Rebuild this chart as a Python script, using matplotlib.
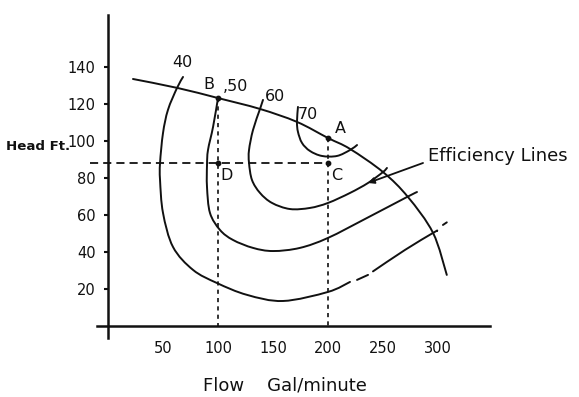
import numpy as np
import matplotlib.pyplot as plt
from matplotlib.path import Path
from matplotlib.patches import PathPatch

nan = np.nan

# pump characteristic (head against flow)
head_flow = [22.7, 63.6, 100, 138.2, 171.8, 200, 220, 250, 272.7, 295.5, 308]
head_ft = [133.5, 128.6, 123.2, 117.3, 110.3, 101.6, 95.7, 83.2, 69.7, 50.3, 27.6]

# efficiency lines, traced as flow / head pairs (nan = break in the pen line)
eff40_flow = [68.2, 62.7, 54.5, 50, 47.3, 47.3, 50, 59.1, 77.3, 99.1, 126.4, 159.1,
              200, 220, nan, 226.4, 236.4, nan, 240.9, 270, 295.5, 299, nan, 304.5, 308]
eff40_head = [134.6, 128.6, 116.8, 104.3, 88.1, 78.9, 61.1, 42.7, 30.3, 23.2, 16.8, 13.5,
              18.4, 23.8, nan, 24.9, 27.6, nan, 29.5, 41.1, 50.3, 51.4, nan, 54.6, 56.0]

eff50_flow = [100, 95.5, 90.9, 90, 90, 92.7, 101.8, 113.6, 131.8, 150, 174.5, 200,
              235.5, 271.8, 280.9]
eff50_head = [123.2, 107.6, 95.1, 87, 75.1, 61.1, 51.9, 46.5, 42.2, 40.5, 42.2, 47.6,
              58.4, 69.7, 72.4]

eff60_flow = [140.9, 138.2, 131.8, 128.2, 128.2, 130.9, 138.2, 149.1, 165.5, 183.6,
              200, 220, 236.4, 250, 253.6]
eff60_head = [122.2, 117.3, 105.9, 95.1, 88.1, 78.9, 71.9, 66.5, 63.2, 63.8, 66.5,
              71.9, 77.3, 83.2, 85.4]

eff70_flow = [172.7, 171.8, 172.7, 176.4, 183.6, 194.5, 208.2, 220, 226.4]
eff70_head = [118.4, 110.3, 104.9, 98.9, 94.6, 91.9, 91.9, 95.1, 97.8]

# operating points
pt_names = ["A", "B", "C", "D"]
pt_flow = [200, 100, 200, 100]
pt_head = [101.6, 123.2, 88.1, 88.1]

flow_ticks = [50, 100, 150, 200, 250, 300]
head_ticks = [20, 40, 60, 80, 100, 120, 140]

INK = "#111111"


def smooth_path(xs, ys):
    """Bezier path through the traced points (Catmull-Rom tangents),
    broken wherever a nan appears."""
    pts = np.column_stack([xs, ys]).astype(float)
    good = ~np.isnan(pts).any(axis=1)
    verts, codes = [], []
    run = []
    for p, g in zip(pts, good):
        if g:
            run.append(p)
            continue
        if len(run) > 1:
            _add_run(np.array(run), verts, codes)
        run = []
    if len(run) > 1:
        _add_run(np.array(run), verts, codes)
    return Path(verts, codes)


def _add_run(p, verts, codes):
    n = len(p)
    verts.append(p[0])
    codes.append(Path.MOVETO)
    if n == 2:
        verts.append(p[1])
        codes.append(Path.LINETO)
        return
    for i in range(n - 1):
        p0 = p[i - 1] if i > 0 else p[i]
        p1, p2 = p[i], p[i + 1]
        p3 = p[i + 2] if i + 2 < n else p[i + 1]
        verts += [p1 + (p2 - p0) / 6, p2 - (p3 - p1) / 6, p2]
        codes += [Path.CURVE4] * 3


def draw_curve(ax, xs, ys, lw=1.4):
    ax.add_patch(PathPatch(smooth_path(xs, ys), fill=False, edgecolor=INK,
                           lw=lw, capstyle="round", joinstyle="round"))


fig = plt.figure(figsize=(5.79, 3.97), dpi=100)
ax = fig.add_axes([0, 0, 1, 1])
ax.set_xlim(-98.2, 428.2)
ax.set_ylim(-38.4, 176.2)
ax.patch.set_visible(False)

for s in ["top", "right"]:
    ax.spines[s].set_visible(False)
ax.spines["left"].set_position(("data", 0))
ax.spines["bottom"].set_position(("data", 0))
ax.spines["left"].set_bounds(-6.5, 168)
ax.spines["bottom"].set_bounds(-10, 347)
for s in ["left", "bottom"]:
    ax.spines[s].set_linewidth(1.8)
    ax.spines[s].set_color(INK)

ax.set_xticks(flow_ticks)
ax.set_yticks(head_ticks)
ax.tick_params(axis="y", direction="out", length=3, width=1.5, pad=6,
               labelsize=10.5, colors=INK)
ax.tick_params(axis="x", direction="out", length=0, pad=11,
               labelsize=10.5, colors=INK)

# head curve and efficiency lines
draw_curve(ax, head_flow, head_ft)
for fx, fy in [(eff40_flow, eff40_head), (eff50_flow, eff50_head),
               (eff60_flow, eff60_head), (eff70_flow, eff70_head)]:
    draw_curve(ax, fx, fy)

# construction lines through the operating points
ax.plot([-16.4, pt_flow[2]], [pt_head[2], pt_head[2]], color=INK, lw=1.3,
        linestyle=(0, (4.5, 2.8)))
ax.plot([pt_flow[1], pt_flow[1]], [pt_head[1], 0], color=INK, lw=1.2,
        linestyle=(0, (2.5, 2.5)))
ax.plot([pt_flow[0], pt_flow[0]], [pt_head[0], 0], color=INK, lw=1.2,
        linestyle=(0, (2.5, 2.5)))
ax.scatter(pt_flow, pt_head, s=10, color=INK, zorder=3)

# labels on the chart
lab_kw = dict(fontsize=11.5, color=INK, ha="center", va="center")
ax.text(67.3, 142.2, "40", **lab_kw)
ax.text(91.8, 130.3, "B", **lab_kw)
ax.text(115.5, 129.7, ",50", **lab_kw)
ax.text(151.8, 123.8, "60", **lab_kw)
ax.text(181.8, 114.1, "70", **lab_kw)
ax.text(210.9, 107.0, "A", **lab_kw)
ax.text(208.2, 81.6, "C", **lab_kw)
ax.text(108.2, 81.6, "D", **lab_kw)

ax.text(290.9, 91.9, "Efficiency Lines", fontsize=13, color=INK,
        ha="left", va="center")
ax.annotate("", xy=(236.4, 77.3), xytext=(286.4, 88.1),
            arrowprops=dict(arrowstyle="-|>", color=INK, lw=1.3,
                            mutation_scale=9, shrinkA=0, shrinkB=0))

ax.text(-93.0, 96.8, "Head Ft.", fontsize=9.6, fontweight="bold",
        color=INK, ha="left", va="center")
ax.text(86.4, -32.0, "Flow    Gal/minute", fontsize=13, color=INK,
        ha="left", va="center")

fig.savefig("out.png", dpi=100)
